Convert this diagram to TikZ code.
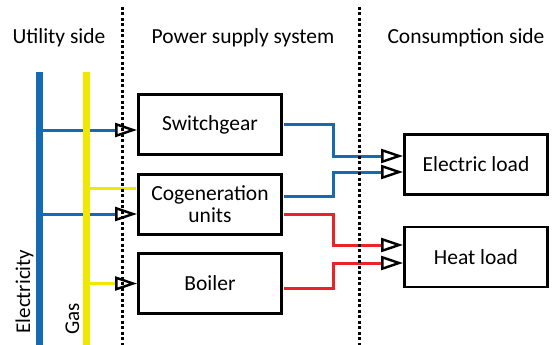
\documentclass[tikz,border=0pt]{standalone}
\usepackage{fontspec}
\setmainfont{Carlito}
\usetikzlibrary{arrows.meta}
\definecolor{eblue}{RGB}{22,106,180}
\definecolor{gyellow}{RGB}{240,232,0}
\definecolor{hred}{RGB}{235,35,40}
\begin{document}
\begin{tikzpicture}[x=1pt,y=-1pt,
  box/.style={draw, line width=2.8pt, minimum width=143pt, minimum height=60pt, inner sep=0pt, font=\fontsize{21.5}{22}\selectfont, align=center},
  title/.style={font=\fontsize{21.5}{22}\selectfont, anchor=base},
  vlabel/.style={font=\fontsize{21}{22}\selectfont, rotate=90, anchor=base west},
  flow/.style={line width=3pt},
  into/.style={-{Triangle[open, length=22pt, width=14pt, line width=2.4pt, color=black]}},
  barstyle/.style={draw=none, inner sep=0pt, minimum width=7pt, minimum height=272.5pt},
  sep/.style={line width=3pt, dash pattern=on 3pt off 2.5pt}
]
\useasboundingbox (0,0) rectangle (554,345);
% boxes
\node[box] (sw) at (210,124.5) {Switchgear};
\node[box] (cg) at (210,204.5) {Cogeneration\\units};
\node[box] (bo) at (210,283.5) {Boiler};
\node[box] (el) at (476,164.5) {Electric load};
\node[box] (hl) at (476,257) {Heat load};
% electricity bar and lines
\node[barstyle, fill=eblue] (elec) at (39.5,208.75) {};
\draw[flow, eblue, into] (elec.center |- 0,130) -- (sw.west |- 0,130);
\draw[flow, eblue, into] (elec.center |- 0,214) -- (cg.west |- 0,214);
% gas bar and lines
\node[barstyle, fill=gyellow] (gas) at (86.5,208.75) {};
\draw[flow, gyellow, shorten >=1.4pt] (gas.center |- 0,188) -- (cg.west |- 0,188);
\draw[flow, gyellow, into] (gas.center |- 0,283.5) -- (bo.west);
% outputs
\draw[flow, eblue, shorten <=1.4pt, into] (sw.east) -| (333,156) -- (el.west |- 0,156);
\draw[flow, eblue, shorten <=1.4pt, into] (cg.east |- 0,196) -| (333,172) -- (el.west |- 0,172);
\draw[flow, hred, shorten <=1.4pt, into] (cg.east |- 0,214) -| (333,245) -- (hl.west |- 0,245);
\draw[flow, hred, shorten <=1.4pt, into] (bo.east |- 0,288) -| (333,263) -- (hl.west |- 0,263);
% separators
\draw[sep] (122,7) -- (122,345);
\draw[sep] (359,7) -- (359,345);
% titles
\node[title] (t1) at (59,44) {Utility side};
\node[title] (t2) at (243,44) {Power supply system};
\node[title] (t3) at (466,44) {Consumption side};
\node[vlabel] (le) at (30,337) {Electricity};
\node[vlabel] (lg) at (79,338) {Gas};
\end{tikzpicture}
\end{document}
